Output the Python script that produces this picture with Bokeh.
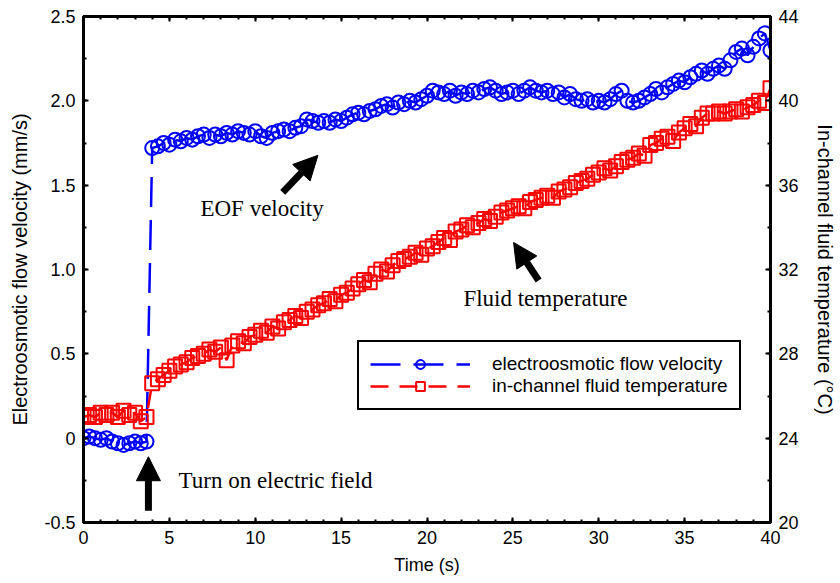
from bokeh.plotting import figure
from bokeh.models import (Range1d, LinearAxis, FixedTicker, Legend, LegendItem,
                          Arrow, NormalHead, Label, CustomLabelingPolicy)
from bokeh.embed import file_html
from bokeh.resources import INLINE

# ---------------- data ----------------
# sampling instants (3 samples per second, 0 .. 40 s)
TIME = [i / 3 for i in range(121)]

# electroosmotic flow velocity (mm/s)
EOF_VELOCITY = [
    0.00, 0.01, 0.00, -0.01, 0.00, -0.02, -0.03, -0.04, -0.03, -0.02, -0.03, -0.02,
    1.72, 1.73, 1.75, 1.74, 1.77, 1.76, 1.78, 1.77, 1.79, 1.80, 1.78, 1.80,
    1.79, 1.81, 1.80, 1.82, 1.81, 1.80, 1.82, 1.79, 1.78, 1.81, 1.82, 1.83,
    1.82, 1.84, 1.85, 1.89, 1.88, 1.87, 1.88, 1.87, 1.89, 1.88, 1.90, 1.92,
    1.93, 1.92, 1.94, 1.95, 1.97, 1.98, 1.96, 1.99, 1.98, 2.00, 1.99, 2.01,
    2.03, 2.06, 2.05, 2.04, 2.06, 2.03, 2.05, 2.04, 2.06, 2.05, 2.07, 2.08,
    2.06, 2.04, 2.05, 2.06, 2.04, 2.06, 2.08, 2.06, 2.05, 2.06, 2.04, 2.05,
    2.02, 2.04, 2.01, 2.00, 2.01, 1.99, 2.00, 1.99, 2.01, 2.04, 2.06, 2.00,
    1.99, 2.00, 2.02, 2.04, 2.07, 2.05, 2.08, 2.10, 2.12, 2.11, 2.14, 2.16,
    2.18, 2.16, 2.19, 2.21, 2.19, 2.24, 2.29, 2.31, 2.27, 2.32, 2.37, 2.40,
    2.30,
]

# in-channel fluid temperature (deg C)
FLUID_TEMP = [
    25.0, 25.1, 25.0, 25.2, 25.1, 25.2, 25.0, 25.3, 25.1, 25.2, 24.8, 25.0,
    26.6, 26.8, 27.0, 27.2, 27.4, 27.5, 27.6, 27.8, 27.9, 28.0, 28.2, 28.1,
    28.3, 27.7, 28.4, 28.6, 28.5, 28.8, 28.9, 29.1, 29.0, 29.3, 29.2, 29.5,
    29.6, 29.8, 29.7, 30.0, 30.1, 30.3, 30.4, 30.6, 30.5, 30.8, 30.9, 31.1,
    31.3, 31.5, 31.4, 31.8, 32.0, 31.9, 32.2, 32.4, 32.5, 32.6, 32.8, 32.7,
    33.0, 33.1, 33.3, 33.5, 33.4, 33.8, 33.9, 34.1, 34.0, 34.2, 34.4, 34.3,
    34.5, 34.7, 34.8, 34.9, 35.0, 34.9, 35.2, 35.3, 35.4, 35.5, 35.4, 35.7,
    35.8, 35.9, 36.1, 36.2, 36.3, 36.5, 36.6, 36.8, 36.7, 36.9, 37.1, 37.2,
    37.3, 37.5, 37.4, 37.9, 38.0, 38.2, 38.3, 38.1, 38.5, 38.7, 38.9, 38.8,
    39.2, 39.4, 39.4, 39.5, 39.4, 39.5, 39.6, 39.5, 39.7, 39.8, 40.0, 39.9,
    40.6,
]

X_TICKS = [0, 5, 10, 15, 20, 25, 30, 35, 40]
X_MINOR = [i for i in range(0, 41)]
V_TICKS = [-0.5, 0.0, 0.5, 1.0, 1.5, 2.0, 2.5]
V_LABELS = ["-0.5", "0", "0.5", "1.0", "1.5", "2.0", "2.5"]
V_MINOR = [-0.5 + 0.25 * i for i in range(13)]
T_TICKS = [20, 24, 28, 32, 36, 40, 44]
T_MINOR = [20 + 2 * i for i in range(13)]

SANS = "Liberation Sans"
SERIF = "Liberation Serif"

# ---------------- figure ----------------
p = figure(width=840, height=583, output_backend="svg", toolbar_location=None,
           x_range=Range1d(0, 40), y_range=Range1d(-0.5, 2.5),
           min_border_left=83, min_border_right=70, min_border_top=16,
           min_border_bottom=61)
p.extra_y_ranges = {"temp": Range1d(20, 44)}
p.xgrid.visible = False
p.ygrid.visible = False
p.outline_line_color = "black"
p.outline_line_width = 3
p.background_fill_color = "white"
p.border_fill_color = "white"


def style_axis(ax, font_size="18px"):
    ax.axis_line_width = 3
    ax.axis_line_color = "black"
    ax.major_tick_in = 5
    ax.major_tick_out = 0
    ax.minor_tick_in = 3
    ax.minor_tick_out = 0
    ax.major_tick_line_width = 2
    ax.minor_tick_line_width = 2
    ax.major_label_text_font = SANS
    ax.major_label_text_font_size = font_size
    ax.major_label_text_color = "black"
    ax.axis_label_text_font = SANS
    ax.axis_label_text_font_style = "normal"
    ax.axis_label_text_color = "black"
    ax.major_label_standoff = 8


xa = p.xaxis[0]
style_axis(xa)
xa.ticker = FixedTicker(ticks=X_TICKS, minor_ticks=X_MINOR)
xa.axis_label = "Time (s)"
xa.axis_label_text_font_size = "18px"
xa.axis_label_standoff = 8

ya = p.yaxis[0]
style_axis(ya)
ya.ticker = FixedTicker(ticks=V_TICKS, minor_ticks=V_MINOR)
ya.major_label_overrides = {v: s for v, s in zip(V_TICKS, V_LABELS)}
ya.axis_label = "Electroosmotic flow velocity (mm/s)"
ya.axis_label_text_font_size = "20px"
ya.axis_label_standoff = 10

ra = LinearAxis(y_range_name="temp")
style_axis(ra)
ra.ticker = FixedTicker(ticks=T_TICKS, minor_ticks=T_MINOR)
ra.axis_label = "In-channel fluid temperature (°C)"
ra.axis_label_text_font_size = "20px"
ra.axis_label_standoff = 12
p.add_layout(ra, "right")

# top frame edge: tick marks only, no labels
ta = LinearAxis()
style_axis(ta)
ta.ticker = FixedTicker(ticks=X_TICKS, minor_ticks=X_MINOR)
ta.major_label_standoff = 0
ta.major_label_policy = CustomLabelingPolicy(code="""
    for (const i of Array.from(indices)) indices.unset(i)
""")
p.add_layout(ta, "above")

# ---------------- series ----------------
BLUE = "#0000FF"
RED = "#FF0000"

bl = p.line(TIME, EOF_VELOCITY, line_color=BLUE, line_width=2.5, line_dash="30 13")
rl = p.line(TIME, FLUID_TEMP, line_color=RED, line_width=2.5, line_dash="18 11",
            y_range_name="temp")
bs = p.scatter(TIME, EOF_VELOCITY, marker="circle", size=14, fill_color=None,
               line_color=BLUE, line_width=2)
rs = p.scatter(TIME, FLUID_TEMP, marker="square", size=14, fill_color=None,
               line_color=RED, line_width=2, y_range_name="temp")

legend = Legend(items=[
    LegendItem(label="electroosmotic flow velocity", renderers=[bl, bs]),
    LegendItem(label="in-channel fluid temperature", renderers=[rl, rs]),
], location=(274, 112))
legend.label_text_font = SANS
legend.label_text_font_size = "19px"
legend.label_text_color = "black"
legend.glyph_width = 100
legend.glyph_height = 22
legend.label_height = 22
legend.label_standoff = 22
legend.padding = 11
legend.spacing = 0
legend.margin = 0
legend.border_line_color = "black"
legend.border_line_alpha = 1
legend.border_line_width = 2
legend.background_fill_alpha = 1
p.add_layout(legend)

# ---------------- annotations ----------------
ARROWS = [
    ((3.78, -0.43), (3.78, -0.11)),
    ((11.6, 1.457), (13.65, 1.677)),
    ((26.5, 0.935), (25.04, 1.16)),
]
for (xs, ys), (xe, ye) in ARROWS:
    p.add_layout(Arrow(end=NormalHead(size=24, fill_color="black", line_color="black"),
                       x_start=xs, y_start=ys, x_end=xe, y_end=ye,
                       line_color="black", line_width=7))

NOTES = [
    ("EOF velocity", 6.81, 1.362),
    ("Turn on electric field", 5.53, -0.25),
    ("Fluid temperature", 22.12, 0.828),
]
for txt, x, y in NOTES:
    p.add_layout(Label(x=x, y=y, text=txt, text_font=SERIF, text_font_size="23px",
                       text_baseline="middle", text_align="left", text_color="black"))

open("out.html", "w").write(file_html(p, INLINE))
